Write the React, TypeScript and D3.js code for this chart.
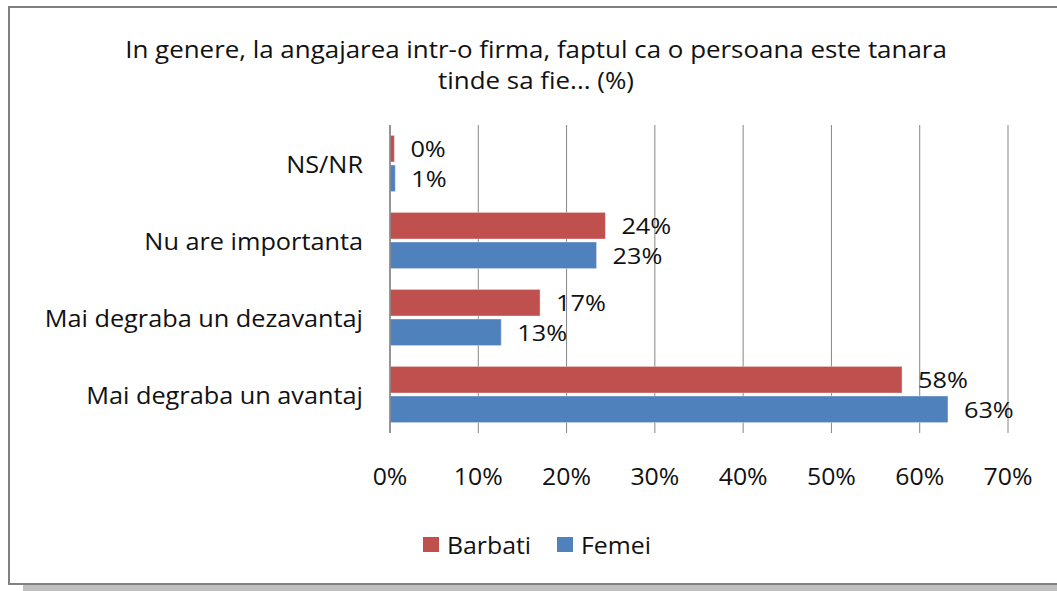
import React from "react";
import * as d3 from "d3";

const categories = ["NS/NR", "Nu are importanta", "Mai degraba un dezavantaj", "Mai degraba un avantaj"];
const barbati = [0.5, 24.4, 17.0, 58.0];
const femei = [0.6, 23.4, 12.6, 63.2];
const labelsBarbati = ["0%", "24%", "17%", "58%"];
const labelsFemei = ["1%", "23%", "13%", "63%"];
const ticks = [0, 10, 20, 30, 40, 50, 60, 70];
const seriesNames = ["Barbati", "Femei"];
const colors = ["#C0504D", "#4F81BD"];

const font = "'Open Sans', Lato, sans-serif";

// text drawn a bit wider than the font, like the stretched original
function Wide({ x, y, size, sx = 1.1, anchor = "start", children }: any) {
  return (
    <text
      transform={`translate(${x},${y}) scale(${sx},1)`}
      textAnchor={anchor}
      dominantBaseline="central"
      fontSize={size}
      fill="#111"
    >
      {children}
    </text>
  );
}

export default function App() {
  const width = 1057;
  const height = 591;
  const left = 390;
  const right = 1008;
  const top = 125;
  const bottom = 433;

  const x = d3.scaleLinear().domain([0, 70]).range([left, right]);
  const y = d3.scaleBand().domain(categories).range([top, bottom]).paddingInner(0.27).paddingOuter(0.135);
  const inner = d3.scaleBand().domain(seriesNames).range([0, y.bandwidth()]).paddingInner(0.1);

  const series = [barbati, femei];
  const labels = [labelsBarbati, labelsFemei];

  return (
    <svg
      width={width}
      height={height}
      style={{ position: "absolute", left: 0, top: 0, background: "#fff" }}
      fontFamily={font}
    >
      {/* frame and shadow */}
      <rect x={23} y={585} width={width} height={8} fill="#c0c0c0" />
      <rect x={9} y={7} width={width + 10} height={577} fill="#fff" stroke="#808080" strokeWidth={2} />

      {/* title */}
      <Wide x={536} y={48} size={24} sx={1.08} anchor="middle">
        In genere, la angajarea intr-o firma, faptul ca o persoana este tanara
      </Wide>
      <Wide x={536} y={79} size={24} sx={1.08} anchor="middle">
        tinde sa fie... (%)
      </Wide>

      {/* gridlines */}
      {ticks.map((t) => (
        <line key={t} x1={x(t)} x2={x(t)} y1={top} y2={bottom} stroke="#868686" strokeWidth={1} />
      ))}

      {/* bars */}
      {categories.map((c, i) =>
        series.map((s, j) => {
          const by = (y(c) as number) + (inner(seriesNames[j]) as number);
          return (
            <g key={c + j}>
              <rect
                x={x(0)}
                y={by}
                width={x(s[i]) - x(0)}
                height={inner.bandwidth()}
                fill={colors[j]}
                stroke="#fff"
                strokeOpacity={0.4}
                strokeWidth={1}
              />
              <Wide x={x(s[i]) + 16} y={by + inner.bandwidth() / 2} size={22} sx={1.15}>
                {labels[j][i]}
              </Wide>
            </g>
          );
        })
      )}

      {/* axis line */}
      <line x1={left} x2={left} y1={top} y2={bottom} stroke="#868686" strokeWidth={1.5} />

      {/* category labels */}
      {categories.map((c) => (
        <Wide key={c} x={363} y={(y(c) as number) + y.bandwidth() / 2} size={23} sx={1.1} anchor="end">
          {c}
        </Wide>
      ))}

      {/* tick labels */}
      {ticks.map((t) => (
        <Wide key={t} x={x(t)} y={476} size={23} sx={1.08} anchor="middle">
          {t + "%"}
        </Wide>
      ))}

      {/* legend */}
      {seriesNames.map((n, j) => {
        const lx = j === 0 ? 423 : 557;
        return (
          <g key={n}>
            <rect x={lx} y={537} width={16} height={15} fill={colors[j]} />
            <Wide x={lx + 24} y={545} size={23} sx={1.08}>
              {n}
            </Wide>
          </g>
        );
      })}
    </svg>
  );
}
